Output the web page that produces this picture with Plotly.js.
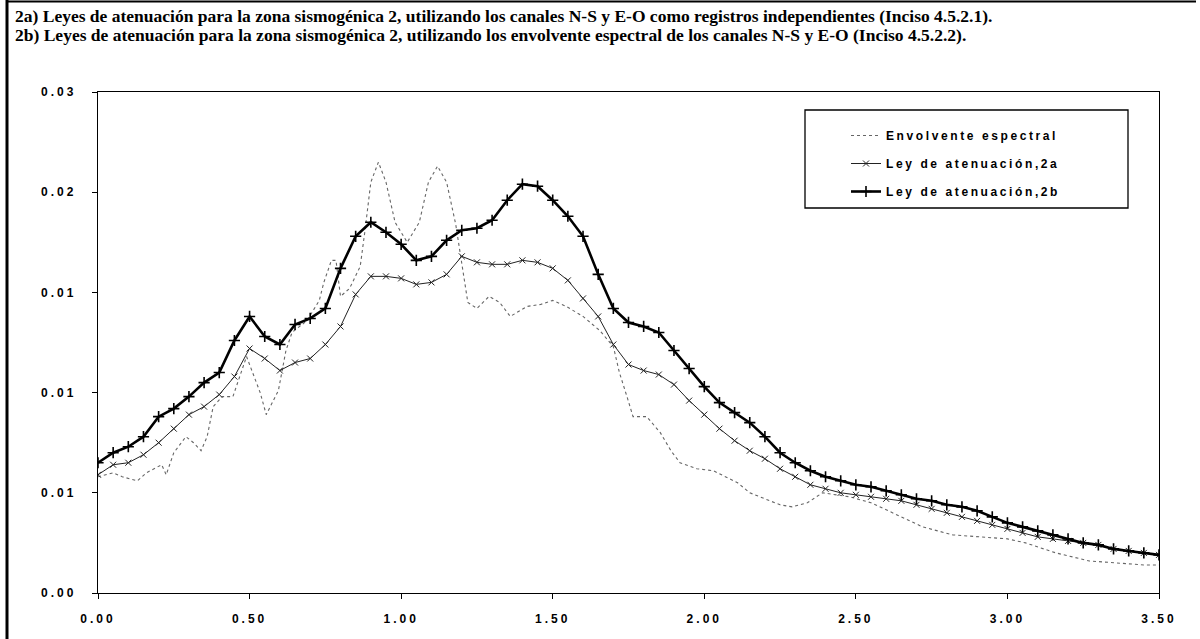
<!DOCTYPE html>
<html>
<head>
<meta charset="utf-8">
<script src="https://cdn.plot.ly/plotly-3.0.1.min.js"></script>
<style>
body{margin:0;background:#fff;}
#chart .xtick text,#chart .ytick text{letter-spacing:3px;}
.legendtext{letter-spacing:2.6px;}
</style>
</head>
<body>
<div id="chart" style="width:1200px;height:639px;"></div>
<script>
// ---- data ----
const titleLines = [
  "2a) Leyes de atenuación para la zona sismogénica 2, utilizando los canales N-S y E-O como registros independientes (Inciso 4.5.2.1).",
  "2b) Leyes de atenuación para la zona sismogénica 2, utilizando los envolvente espectral de los canales N-S y E-O (Inciso 4.5.2.2)."
];
const seriesNames = ["Envolvente espectral", "Ley de atenuación,2a", "Ley de atenuación,2b"];

const xGrid = [0.00,0.05,0.10,0.15,0.20,0.25,0.30,0.35,0.40,0.45,0.50,0.55,0.60,0.65,0.70,0.75,0.80,0.85,0.90,0.95,
  1.00,1.05,1.10,1.15,1.20,1.25,1.30,1.35,1.40,1.45,1.50,1.55,1.60,1.65,1.70,1.75,1.80,1.85,1.90,1.95,
  2.00,2.05,2.10,2.15,2.20,2.25,2.30,2.35,2.40,2.45,2.50,2.55,2.60,2.65,2.70,2.75,2.80,2.85,2.90,2.95,
  3.00,3.05,3.10,3.15,3.20,3.25,3.30,3.35,3.40,3.45,3.50];

const ley2b = [0.0065,0.0070,0.0073,0.0078,0.0088,0.0092,0.0098,0.0105,0.0110,0.0126,0.0138,0.0128,0.0124,0.0134,0.0137,0.0142,0.0162,0.0178,0.0185,0.0180,
  0.0174,0.0166,0.0168,0.0176,0.0181,0.0182,0.0186,0.0196,0.0204,0.0203,0.0196,0.0188,0.0178,0.0159,0.0142,0.0135,0.0133,0.0130,0.0121,0.0112,
  0.0103,0.0095,0.0090,0.0085,0.0078,0.0070,0.0065,0.0061,0.0058,0.0056,0.0054,0.0053,0.0051,0.0049,0.0047,0.0046,0.0044,0.0043,0.0041,0.0038,
  0.0035,0.0033,0.0031,0.0029,0.0027,0.0025,0.0024,0.0022,0.0021,0.0020,0.0019];

const ley2a = [0.0059,0.0064,0.0065,0.0069,0.0075,0.0082,0.0089,0.0093,0.0099,0.0108,0.0122,0.0117,0.0111,0.0115,0.0117,0.0124,0.0133,0.0149,0.0158,0.0158,
  0.0157,0.0154,0.0155,0.0159,0.0168,0.0165,0.0164,0.0164,0.0166,0.0165,0.0162,0.0156,0.0147,0.0138,0.0124,0.0114,0.0111,0.0109,0.0104,0.0096,
  0.0089,0.0082,0.0076,0.0071,0.0067,0.0062,0.0058,0.0054,0.0052,0.0050,0.0049,0.0048,0.0047,0.0046,0.0044,0.0042,0.0040,0.0038,0.0036,0.0034,
  0.0032,0.0030,0.0028,0.0027,0.0026,0.0025,0.0024,0.0022,0.0021,0.0020,0.0019];

const envX = [0.00,0.05,0.08,0.13,0.16,0.21,0.225,0.25,0.29,0.315,0.34,0.36,0.38,0.41,0.445,0.46,0.49,0.51,0.535,0.555,
  0.595,0.62,0.64,0.69,0.73,0.745,0.77,0.785,0.80,0.83,0.865,0.88,0.90,0.925,0.95,0.98,1.02,1.06,1.09,1.12,
  1.15,1.18,1.205,1.22,1.25,1.29,1.325,1.36,1.415,1.46,1.50,1.545,1.60,1.655,1.70,1.72,1.745,1.765,1.81,1.855,
  1.89,1.92,1.975,2.03,2.11,2.15,2.25,2.29,2.34,2.39,2.48,2.55,2.65,2.72,2.82,2.92,3.00,3.06,3.16,3.27,3.36,3.45,3.50];
const envY = [0.0058,0.0060,0.0058,0.0056,0.0060,0.0064,0.0059,0.0070,0.0078,0.0075,0.0071,0.0078,0.0093,0.0098,0.0098,0.0105,0.0118,0.0110,0.0100,0.0089,
  0.0101,0.0121,0.0130,0.0136,0.0146,0.0155,0.0166,0.0166,0.0148,0.0152,0.0163,0.0180,0.0205,0.0215,0.0205,0.0185,0.0175,0.0185,0.0205,0.0213,
  0.0205,0.0184,0.0158,0.0145,0.0142,0.0148,0.0145,0.0138,0.0143,0.0144,0.0146,0.0143,0.0138,0.0131,0.0123,0.0110,0.0098,0.0088,0.0088,0.0080,
  0.0071,0.0065,0.0062,0.0061,0.0055,0.0050,0.0044,0.0043,0.0045,0.0050,0.0048,0.0045,0.0038,0.0033,0.0029,0.0028,0.0027,0.0025,0.0020,0.0016,0.0015,0.0014,0.0014];

const xTicks = [0,0.5,1,1.5,2,2.5,3,3.5];
const yTicks = [0,0.005,0.01,0.015,0.02,0.025];

// ---- layout helpers (pixel -> paper) ----
const W=1200,H=639,L=98,R=1159,T=92,B=593;
const px=x=>(x-L)/(R-L);
const py=y=>(B-y)/(B-T);

const traces = [
  {x:envX,y:envY,name:seriesNames[0],type:'scatter',mode:'lines',legendgroup:'g1',
   line:{color:'#666',width:1.1,dash:'dot'}},
  {x:xGrid,y:ley2a,name:seriesNames[1],type:'scatter',mode:'lines+markers',legendgroup:'g2',
   line:{color:'#222',width:1},
   marker:{symbol:'x-thin',size:6,color:'#222',line:{width:1,color:'#222'}}},
  {x:xGrid,y:ley2b,name:seriesNames[2],type:'scatter',mode:'lines+markers',legendgroup:'g3',
   line:{color:'#000',width:2.6},
   marker:{symbol:'cross-thin',size:8,color:'#000',line:{width:1.6,color:'#000'}}}
];

const tickFont={family:'"Liberation Sans", Arial, sans-serif',size:12,color:'#000',weight:'bold'};
const titleFont={family:'"Liberation Serif", "Times New Roman", serif',size:17.5,color:'#000',weight:'bold'};

const layout = {
  width:W,height:H,
  margin:{l:L,r:W-R,t:T,b:H-B,pad:0},
  paper_bgcolor:'#fff',plot_bgcolor:'#fff',
  showlegend:true,
  legend:{x:px(846),y:py(121),xanchor:'left',yanchor:'top',bgcolor:'rgba(0,0,0,0)',borderwidth:0,
    font:{family:'"Liberation Sans", Arial, sans-serif',size:12,color:'#000',weight:'bold'},
    tracegroupgap:9,traceorder:'grouped'},
  xaxis:{range:[0,3.5],tickvals:xTicks,tickformat:'.2f',ticks:'outside',ticklen:5,tickwidth:1,tickcolor:'#000',
    showline:true,linecolor:'#000',linewidth:1.2,mirror:true,showgrid:false,zeroline:false,
    tickfont:tickFont,ticklabelstandoff:9},
  yaxis:{range:[0,0.025],tickvals:yTicks,tickformat:'.2f',ticks:'outside',ticklen:5,tickwidth:1,tickcolor:'#000',
    showline:true,linecolor:'#000',linewidth:1.2,mirror:true,showgrid:false,zeroline:false,
    tickfont:tickFont,ticklabelstandoff:13},
  annotations:[
    {text:titleLines[0],xref:'paper',yref:'paper',x:px(13),y:py(16),xanchor:'left',yanchor:'middle',showarrow:false,font:titleFont},
    {text:titleLines[1],xref:'paper',yref:'paper',x:px(13),y:py(35),xanchor:'left',yanchor:'middle',showarrow:false,font:titleFont}
  ],
  shapes:[
    {type:'rect',xref:'paper',yref:'paper',x0:px(805),x1:px(1128),y0:py(208),y1:py(110),line:{color:'#000',width:1.3},fillcolor:'rgba(0,0,0,0)'},
    {type:'line',xref:'paper',yref:'paper',x0:px(7),x1:px(7),y0:py(0),y1:py(639),line:{color:'#000',width:3}},
    {type:'line',xref:'paper',yref:'paper',x0:px(7),x1:px(1196),y0:py(1.5),y1:py(1.5),line:{color:'#000',width:2}}
  ]
};

Plotly.newPlot('chart',traces,layout,{displayModeBar:false,staticPlot:true});
</script>
</body>
</html>
